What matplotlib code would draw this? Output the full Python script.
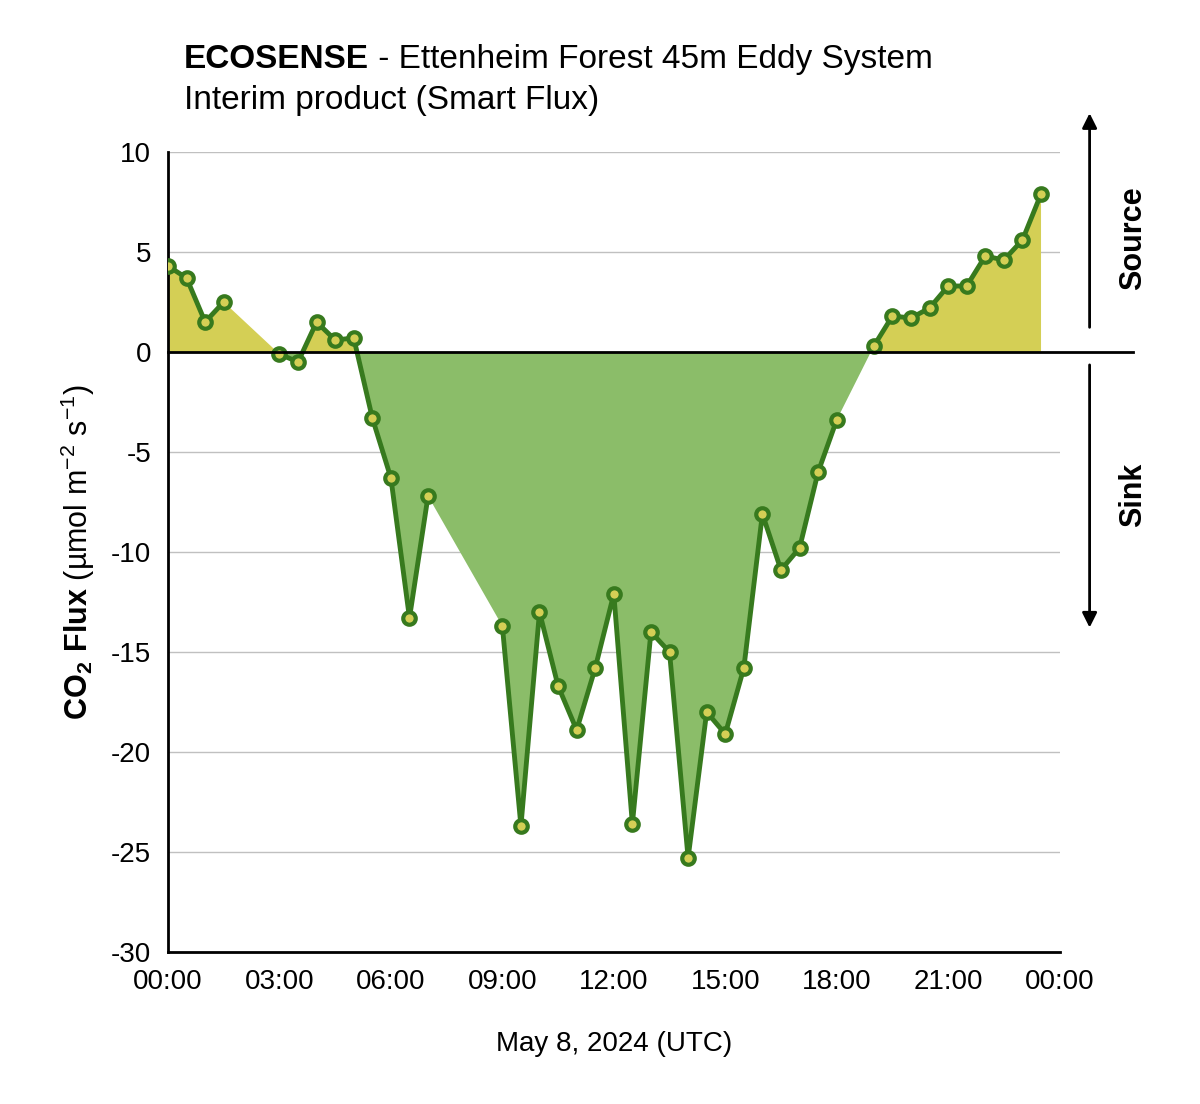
import numpy as np
import matplotlib
matplotlib.use("Agg")
import matplotlib.pyplot as plt
from matplotlib.transforms import blended_transform_factory

plt.rcParams['font.family'] = ['Liberation Sans', 'DejaVu Sans']
plt.rcParams['mathtext.fontset'] = 'custom'
plt.rcParams['mathtext.rm'] = 'Liberation Sans'
plt.rcParams['mathtext.bf'] = 'Liberation Sans:bold'
plt.rcParams['axes.unicode_minus'] = False

hours = [0.0, 0.5, 1.0, 1.5, 3.0, 3.5, 4.0, 4.5, 5.0, 5.5, 6.0, 6.5, 7.0,
         9.0, 9.5, 10.0, 10.5, 11.0, 11.5, 12.0, 12.5, 13.0, 13.5, 14.0, 14.5,
         15.0, 15.5, 16.0, 16.5, 17.0, 17.5, 18.0,
         19.0, 19.5, 20.0, 20.5, 21.0, 21.5, 22.0, 22.5, 23.0, 23.5]
flux = [4.3, 3.7, 1.5, 2.5, -0.1, -0.5, 1.5, 0.6, 0.7, -3.3, -6.3, -13.3, -7.2,
        -13.7, -23.7, -13.0, -16.7, -18.9, -15.8, -12.1, -23.6, -14.0, -15.0, -25.3, -18.0,
        -19.1, -15.8, -8.1, -10.9, -9.8, -6.0, -3.4,
        0.3, 1.8, 1.7, 2.2, 3.3, 3.3, 4.8, 4.6, 5.6, 7.9]
tick_labels = ["00:00", "03:00", "06:00", "09:00", "12:00", "15:00", "18:00", "21:00", "00:00"]

h = np.array(hours); f = np.array(flux)
lx, ly = [], []
for i in range(len(h)):
    if i > 0 and h[i] - h[i-1] > 0.6:
        lx.append(np.nan); ly.append(np.nan)
    lx.append(h[i]); ly.append(f[i])

fig = plt.figure(figsize=(12, 11.04), dpi=100)
ax = fig.add_axes([0.14, 0.1377, 0.743, 0.7246])
ax.fill_between(h, f, 0, where=f >= 0, interpolate=True, color='#d4cf55', lw=0, zorder=1)
ax.fill_between(h, f, 0, where=f <= 0, interpolate=True, color='#8bbd69', lw=0, zorder=1)
ax.plot(lx, ly, color='#377a1e', lw=3.5, marker='o', ms=9, mfc='#d4cf55',
        mec='#377a1e', mew=3, zorder=3)
ax.set_xlim(0, 24)
ax.set_ylim(-30, 10)
ax.set_yticks(range(-30, 11, 5))
ax.set_xticks(range(0, 25, 3))
ax.set_xticklabels(tick_labels)
ax.tick_params(length=0, labelsize=20, pad=12)
ax.yaxis.grid(True, color='#c0c0c0', lw=1)
ax.set_axisbelow(True)
for s in ['top', 'right']:
    ax.spines[s].set_visible(False)
for s in ['left', 'bottom']:
    ax.spines[s].set_linewidth(2)
tr = blended_transform_factory(ax.transAxes, ax.transData)
ax.plot([0, 1.082], [0, 0], color='black', lw=2, transform=tr, clip_on=False, zorder=4)

ax.set_xlabel("May 8, 2024 (UTC)", fontsize=20, labelpad=26)
ax.set_ylabel(r"$\bf{CO_2\ Flux}$ (µmol m$^{-2}$ s$^{-1}$)", fontsize=22, labelpad=10)

fig.patches  # arrows in figure coords
fig.add_artist(matplotlib.patches.FancyArrowPatch((0.908, 0.701), (0.908, 0.900),
               transform=fig.transFigure, arrowstyle='-|>', mutation_scale=22, color='black', lw=2))
fig.add_artist(matplotlib.patches.FancyArrowPatch((0.908, 0.672), (0.908, 0.429),
               transform=fig.transFigure, arrowstyle='-|>', mutation_scale=22, color='black', lw=2))
fig.text(0.944, 0.784, "Source", rotation=90, fontsize=22, fontweight='bold', ha='center', va='center')
fig.text(0.944, 0.552, "Sink", rotation=90, fontsize=22, fontweight='bold', ha='center', va='center')

t1 = fig.text(0.153, 0.946, "ECOSENSE", fontsize=24, fontweight='bold', va='center')
fig.canvas.draw()
bb = t1.get_window_extent()
x2 = bb.x1 / fig.bbox.width
fig.text(x2, 0.946, " - Ettenheim Forest 45m Eddy System", fontsize=24, va='center')
fig.text(0.153, 0.909, "Interim product (Smart Flux)", fontsize=24, va='center')

fig.savefig("out.png", dpi=100)
